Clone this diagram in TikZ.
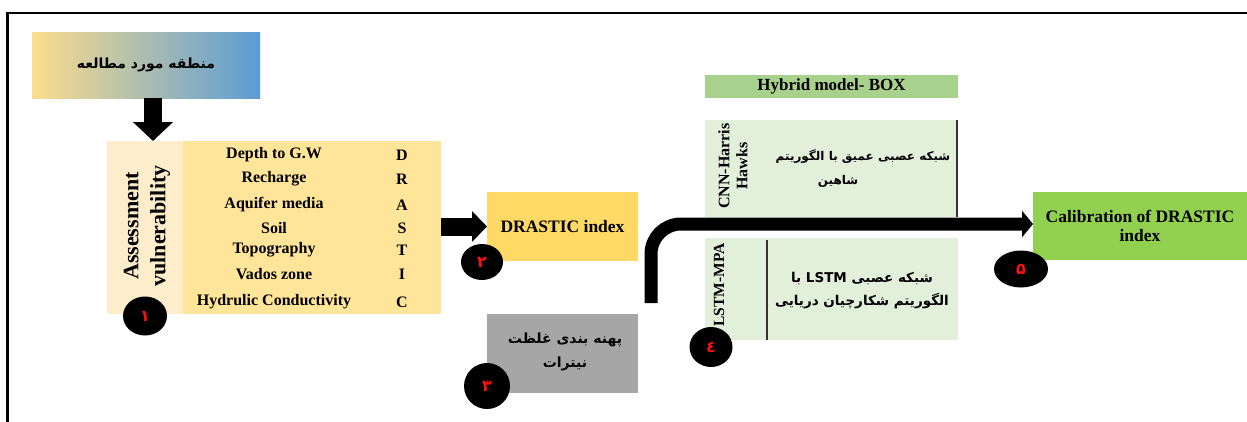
\documentclass[tikz,border=0pt]{standalone}
\usepackage{fontspec}
\setmainfont{Liberation Serif}
\newfontfamily\fa[Script=Arabic]{DejaVu Sans}
\TeXXeTstate=1
\usetikzlibrary{arrows.meta,shapes.geometric}
\definecolor{cTopL}{HTML}{FCDD8C}
\definecolor{cTopR}{HTML}{5B9BD5}
\definecolor{cAssL}{HTML}{FDEDCB}
\definecolor{cAssR}{HTML}{FFE599}
\definecolor{cDras}{HTML}{FFD966}
\definecolor{cGray}{HTML}{A6A6A6}
\definecolor{cHyb}{HTML}{A9D18E}
\definecolor{cLgreen}{HTML}{E2EFDA}
\definecolor{cCal}{HTML}{92D050}
\definecolor{cNum}{HTML}{FF1010}
\newcommand\fatext[1]{{\fa\bfseries\beginR #1\endR}}
\begin{document}
\begin{tikzpicture}[x=1pt,y=-1pt,
  box/.style={draw=none,inner sep=0,outer sep=0,anchor=north west,align=center},
  lbl/.style={inner sep=0,font=\bfseries\fontsize{16}{19}\selectfont},
  big/.style={font=\bfseries\fontsize{17.5}{22}\selectfont},
  fatxt/.style={inner sep=0,font=\fontsize{12}{15}\selectfont},
  circ/.style={ellipse,fill=black,inner sep=0,minimum width=44,minimum height=39,
     text=cNum,font=\fa\bfseries\fontsize{16}{19}\selectfont},
  blockarrow/.style={draw=black,line width=18},
]
\useasboundingbox (0,0) rectangle (1247,421);
% frame
\draw[line width=2.5] (7.5,425) -- (7.5,13) -- (1252,13);

% study area
\node[box,left color=cTopL,right color=cTopR,minimum width=228,minimum height=66,
      font=\fontsize{14}{16}\selectfont] (top) at (32,32) {\fatext{منطقه مورد مطالعه}};

% assessment block
\node[box,fill=cAssL,minimum width=76,minimum height=173] (assL) at (107,141) {};
\node[box,fill=cAssR,minimum width=258,minimum height=173] (assR) at (183,141) {};
\node[rotate=90,align=center,inner sep=0,font=\bfseries\fontsize{22}{27}\selectfont] (asstxt) at (147,226) {Assessment\\vulnerability};
\foreach \t/\l/\y [count=\i] in {Depth to G.W/D/155,Recharge/R/179,Aquifer media/A/205,Soil/S/228,Topography/T/250,Vados zone/I/274,Hydrulic Conductivity/C/302}{
  \node[lbl] (row\i) at (274,\y) {\t};
  \node[lbl] (let\i) at (402,\y) {\l};
}

% DRASTIC index
\node[box,fill=cDras,minimum width=151,minimum height=69,big] (dras) at (487,192) {DRASTIC index};

% nitrate zoning
\node[box,fill=cGray,minimum width=151,minimum height=79] (gray) at (487,314) {};
\node[fatxt,font=\fontsize{14}{16}\selectfont] (g1) at (565,340) {\fatext{پهنه بندی غلظت}};
\node[fatxt,font=\fontsize{14}{16}\selectfont] (g2) at (565,364) {\fatext{نیترات}};

% hybrid model
\node[box,fill=cHyb,minimum width=253,minimum height=23,font=\bfseries\fontsize{17}{20}\selectfont] (hyb) at (705,75) {Hybrid model- BOX};
\node[box,fill=cLgreen,minimum width=253,minimum height=97] (cnn) at (705,120) {};
\draw[line width=1.6,black!80] (957,120) -- (957,217);
\node[rotate=90,align=center,inner sep=0,font=\bfseries\fontsize{16}{18}\selectfont] (cnntxt) at (733,166) {CNN-Harris\\Hawks};
\node[fatxt] (c1) at (863,157) {\fatext{شبکه عصبی عمیق با الگوریتم}};
\node[fatxt] (c2) at (838,181) {\fatext{شاهین}};

\node[box,fill=cLgreen,minimum width=253,minimum height=102] (lstm) at (705,238) {};
\draw[line width=1.6,black!80] (767,240) -- (767,340);
\node[rotate=90,inner sep=0,font=\bfseries\fontsize{15.5}{18}\selectfont] (lstmtxt) at (719,285) {LSTM-MPA};
\node[fatxt,font=\fontsize{13.5}{16}\selectfont] (l1) at (862,279) {\fatext{شبکه عصبی \beginL LSTM\endL{} با}};
\node[fatxt,font=\fontsize{13.5}{16}\selectfont] (l2) at (862,301) {\fatext{الگوریتم شکارچیان دریایی}};

% calibration
\node[box,fill=cCal,minimum width=214,minimum height=68,big] (cal) at (1033,192) {Calibration of DRASTIC\\[-3pt]index};

% arrows
\draw[blockarrow,-{Triangle[length=19,width=39]}] ([xshift=7]top.south) -- ([xshift=8]assL.north);
\draw[blockarrow,-{Triangle[length=15,width=30]}] (assR.east |- dras.west) -- (dras.west);
\coordinate (cs) at (651,303);
\draw[line width=13,rounded corners=30,-{Triangle[length=11,width=26]}] (cs) |- ([yshift=2]cal.west);

% numbered markers
\node[circ] (n1) at (145,316) {١};
\node[circ,minimum width=42,minimum height=36] (n2) at (482,262) {٢};
\node[circ,minimum width=46,minimum height=46] (n3) at (487,386) {٣};
\node[circ,minimum width=43,minimum height=40] (n4) at (711,347) {٤};
\node[circ,minimum width=54,minimum height=37] (n5) at (1021,269) {۵};
\end{tikzpicture}
\end{document}
